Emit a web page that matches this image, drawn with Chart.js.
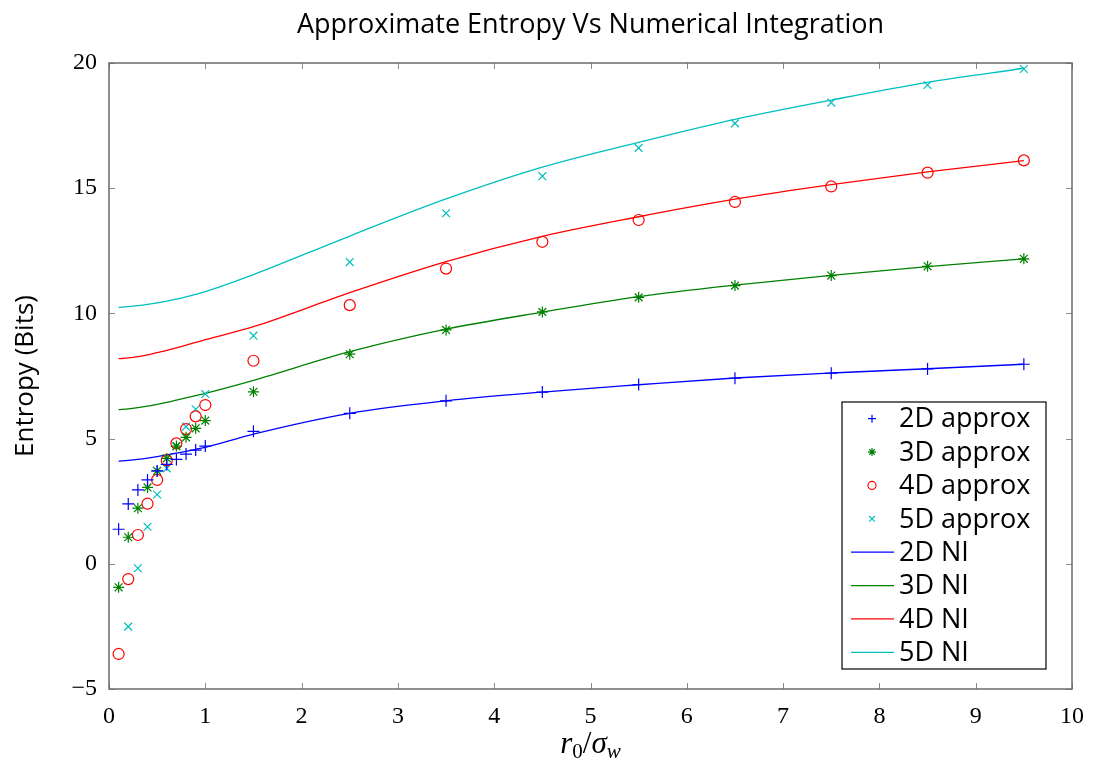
<!DOCTYPE html>
<html>
<head>
<meta charset="utf-8">
<script src="https://cdn.jsdelivr.net/npm/chart.js@4.4.1/dist/chart.umd.min.js"></script>
<style>
  html, body { margin: 0; padding: 0; background: #fff; }
  #wrap { width: 1097px; height: 767px; }
</style>
</head>
<body>
<div id="wrap"><canvas id="chart" width="1097" height="767"></canvas></div>
<script>
// x positions of the approximation points
var xApprox = [0.1, 0.2, 0.3, 0.4, 0.5, 0.6, 0.7, 0.8, 0.9, 1.0, 1.5, 2.5, 3.5, 4.5, 5.5, 6.5, 7.5, 8.5, 9.5];
var approx2D = [1.38, 2.39, 2.95, 3.35, 3.71, 3.97, 4.17, 4.38, 4.54, 4.70, 5.29, 6.01, 6.51, 6.86, 7.16, 7.41, 7.61, 7.78, 7.97];
var approx3D = [-0.94, 1.06, 2.22, 3.05, 3.71, 4.21, 4.70, 5.05, 5.41, 5.72, 6.87, 8.37, 9.34, 10.06, 10.64, 11.11, 11.51, 11.88, 12.18];
var approx4D = [-3.60, -0.61, 1.15, 2.40, 3.35, 4.13, 4.81, 5.38, 5.89, 6.34, 8.11, 10.33, 11.79, 12.86, 13.73, 14.45, 15.07, 15.62, 16.11];
var approx5D = [null, -2.51, -0.18, 1.48, 2.77, 3.81, 4.70, 5.48, 6.17, 6.78, 9.11, 12.05, 14.00, 15.48, 16.61, 17.59, 18.42, 19.12, 19.76];

// numerical integration curves
var xNI = [0.1, 0.2, 0.3, 0.4, 0.5, 0.6, 0.7, 0.8, 0.9, 1.0, 1.5, 2.5, 3.5, 4.5, 5.5, 6.5, 7.5, 8.5, 9.5];
var ni2D = [4.10, 4.13, 4.17, 4.22, 4.28, 4.35, 4.42, 4.49, 4.57, 4.65, 5.18, 6.01, 6.51, 6.86, 7.15, 7.42, 7.62, 7.79, 7.97];
var ni3D = [6.16, 6.19, 6.24, 6.30, 6.37, 6.45, 6.54, 6.63, 6.72, 6.81, 7.33, 8.47, 9.37, 10.05, 10.67, 11.13, 11.52, 11.87, 12.18];
var ni4D = [8.19, 8.22, 8.27, 8.34, 8.43, 8.52, 8.62, 8.73, 8.84, 8.95, 9.47, 10.83, 12.07, 13.08, 13.86, 14.56, 15.14, 15.65, 16.10];
var ni5D = [10.24, 10.27, 10.31, 10.36, 10.42, 10.49, 10.57, 10.66, 10.76, 10.87, 11.55, 13.09, 14.57, 15.84, 16.83, 17.75, 18.52, 19.23, 19.79];

var xTicks = [0, 1, 2, 3, 4, 5, 6, 7, 8, 9, 10];
var yTicks = [-5, 0, 5, 10, 15, 20];

var BLUE = '#0000ff', GREEN = '#008000', RED = '#ff0000', CYAN = '#00bfbf';
var SANS = '"Open Sans", "Noto Sans", sans-serif';
var SERIF = '"Liberation Serif", "DejaVu Serif", serif';

function toPoints(xs, ys) {
    return xs.map(function (x, i) { return { x: x, y: ys[i] }; });
}

function markerSet(label, ys, color, style, radius) {
    return {
        label: label,
        data: toPoints(xApprox, ys),
        showLine: false,
        pointStyle: style,
        pointRadius: radius,
        pointHoverRadius: radius,
        pointBorderColor: color,
        pointBackgroundColor: 'rgba(0,0,0,0)',
        pointBorderWidth: 1.2,
        borderColor: color,
        backgroundColor: 'rgba(0,0,0,0)'
    };
}

function lineSet(label, ys, color) {
    return {
        label: label,
        data: toPoints(xNI, ys),
        showLine: true,
        pointRadius: 0,
        borderColor: color,
        borderWidth: 1.3,
        backgroundColor: color,
        cubicInterpolationMode: 'monotone'
    };
}

// inward ticks on all four sides + frame, like pgfplots
var framePlugin = {
    id: 'frame',
    afterDatasetsDraw: function (chart) {
        var ctx = chart.ctx, a = chart.chartArea;
        var xs = chart.scales.x, ys = chart.scales.y;
        ctx.save();
        ctx.strokeStyle = '#8c8c8c';
        ctx.lineWidth = 1;
        xTicks.forEach(function (v) {
            var px = Math.round(xs.getPixelForValue(v)) + 0.5;
            ctx.beginPath();
            ctx.moveTo(px, a.bottom); ctx.lineTo(px, a.bottom - 6);
            ctx.moveTo(px, a.top); ctx.lineTo(px, a.top + 6);
            ctx.stroke();
        });
        yTicks.forEach(function (v) {
            var py = Math.round(ys.getPixelForValue(v)) + 0.5;
            ctx.beginPath();
            ctx.moveTo(a.left, py); ctx.lineTo(a.left + 6, py);
            ctx.moveTo(a.right, py); ctx.lineTo(a.right - 6, py);
            ctx.stroke();
        });
        ctx.strokeStyle = '#6a6a6a';
        ctx.lineWidth = 1.5;
        ctx.strokeRect(a.left, a.top, a.right - a.left, a.bottom - a.top);
        ctx.restore();
    }
};

// x axis label r_0 / sigma_w
var xLabelPlugin = {
    id: 'xlabel',
    afterDraw: function (chart) {
        var ctx = chart.ctx, a = chart.chartArea;
        var cx = (a.left + a.right) / 2;
        var base = 753;
        var parts = [
            { t: 'r', f: 'italic 31px ' + SERIF, dy: 0 },
            { t: '0', f: '21px ' + SERIF, dy: 5 },
            { t: '/', f: '31px ' + SERIF, dy: 0 },
            { t: 'σ', f: 'italic 31px ' + SERIF, dy: 0 },
            { t: 'w', f: 'italic 21px ' + SERIF, dy: 5 }
        ];
        ctx.save();
        var total = 0;
        parts.forEach(function (p) { ctx.font = p.f; p.w = ctx.measureText(p.t).width; total += p.w; });
        var x = cx - total / 2;
        ctx.fillStyle = '#000';
        ctx.textBaseline = 'alphabetic';
        ctx.textAlign = 'left';
        parts.forEach(function (p) {
            ctx.font = p.f;
            ctx.fillText(p.t, x, base + p.dy);
            x += p.w;
        });
        ctx.restore();
    }
};

// boxed legend inside the plot, bottom right
var legendPlugin = {
    id: 'boxLegend',
    afterDraw: function (chart) {
        var ctx = chart.ctx;
        var left = 842, top = 402, right = 1046, bottom = 669;
        var rowH = (bottom - top) / chart.data.datasets.length;
        ctx.save();
        ctx.fillStyle = '#fff';
        ctx.fillRect(left, top, right - left, bottom - top);
        ctx.strokeStyle = '#000';
        ctx.lineWidth = 1.2;
        ctx.strokeRect(left, top, right - left, bottom - top);
        chart.data.datasets.forEach(function (ds, i) {
            var cy = top + rowH * (i + 0.5);
            if (ds.showLine) {
                ctx.strokeStyle = ds.borderColor;
                ctx.lineWidth = 1.3;
                ctx.beginPath();
                ctx.moveTo(851, cy); ctx.lineTo(894, cy);
                ctx.stroke();
            } else {
                ctx.strokeStyle = ds.pointBorderColor;
                ctx.fillStyle = 'rgba(0,0,0,0)';
                ctx.lineWidth = 1.2;
                Chart.helpers.drawPoint(ctx, { pointStyle: ds.pointStyle, radius: 4, rotation: 0, borderWidth: 1.2 }, 872, cy);
            }
            ctx.fillStyle = '#000';
            ctx.font = '27px ' + SANS;
            ctx.textBaseline = 'middle';
            ctx.textAlign = 'left';
            ctx.fillText(ds.label, 899, cy + 1);
        });
        ctx.restore();
    }
};

var ctx = document.getElementById('chart').getContext('2d');
var chart = new Chart(ctx, {
    type: 'scatter',
    data: {
        datasets: [
            markerSet('2D approx', approx2D, BLUE, 'cross', 6),
            markerSet('3D approx', approx3D, GREEN, 'star', 5.5),
            markerSet('4D approx', approx4D, RED, 'circle', 5.5),
            markerSet('5D approx', approx5D, CYAN, 'crossRot', 5.5),
            lineSet('2D NI', ni2D, BLUE),
            lineSet('3D NI', ni3D, GREEN),
            lineSet('4D NI', ni4D, RED),
            lineSet('5D NI', ni5D, CYAN)
        ]
    },
    options: {
        responsive: false,
        animation: false,
        layout: { padding: { left: 0, right: 23, top: 0, bottom: 0 } },
        plugins: {
            legend: { display: false },
            tooltip: { enabled: false },
            title: {
                display: true,
                fullSize: false,
                text: 'Approximate Entropy Vs Numerical Integration',
                color: '#000',
                font: { family: SANS, size: 27, weight: 'normal', lineHeight: 1.2 },
                padding: { top: 8.8, bottom: 21.8 }
            }
        },
        scales: {
            x: {
                type: 'linear',
                min: 0, max: 10,
                afterFit: function (s) { s.height = 78; },
                afterBuildTicks: function (s) { s.ticks = xTicks.map(function (v) { return { value: v }; }); },
                grid: { display: false, drawTicks: false },
                border: { display: false },
                ticks: {
                    color: '#000',
                    padding: 13,
                    font: { family: SERIF, size: 24 }
                }
            },
            y: {
                type: 'linear',
                min: -5, max: 20,
                afterFit: function (s) { s.width = 109; },
                afterBuildTicks: function (s) { s.ticks = yTicks.map(function (v) { return { value: v }; }); },
                grid: { display: false, drawTicks: false },
                border: { display: false },
                title: {
                    display: true,
                    text: 'Entropy (Bits)',
                    color: '#000',
                    font: { family: SANS, size: 26 },
                    padding: { top: 10, bottom: 0 }
                },
                ticks: {
                    color: '#000',
                    padding: 12,
                    font: { family: SERIF, size: 24 },
                    callback: function (v) { return v < 0 ? '\u2212' + Math.abs(v) : String(v); }
                }
            }
        }
    },
    plugins: [framePlugin, xLabelPlugin, legendPlugin]
});
</script>
</body>
</html>
